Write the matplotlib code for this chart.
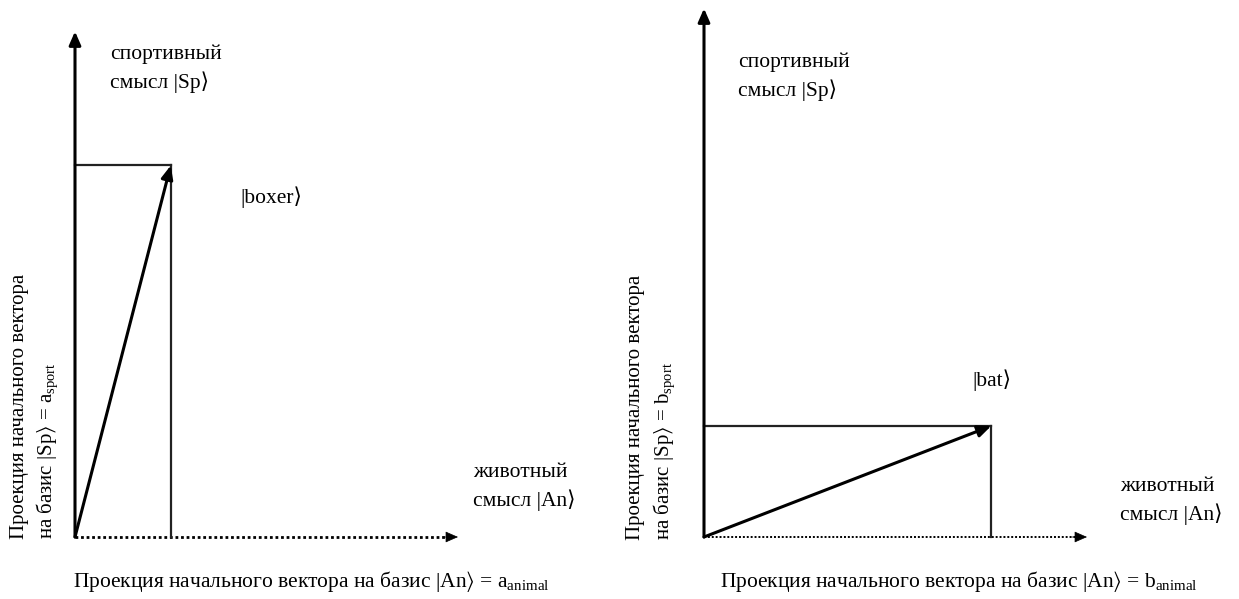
import matplotlib
matplotlib.use("Agg")
import matplotlib.pyplot as plt

# Данные: проекции векторов на базисы (An - животный, Sp - спортивный)
boxer = [0.25, 0.97]      # a_animal, a_sport
bat = [0.75, 0.29]        # b_animal, b_sport
axis_x_len = [1.0, 1.0]
axis_y_len = [1.32, 1.38]
vec_labels = ["|boxer⟩", "|bat⟩"]
coef = ["a", "b"]

plt.rcParams['font.family'] = ['Liberation Serif', 'DejaVu Serif', 'DejaVu Sans']
plt.rcParams['mathtext.fontset'] = 'custom'
plt.rcParams['mathtext.rm'] = 'Liberation Serif'
plt.rcParams['mathtext.it'] = 'Liberation Serif:italic'

W, H = 1239, 599
fig = plt.figure(figsize=(W / 100, H / 100), dpi=100)

# положение начала координат каждой панели (в пикселях)
origins = [(75, 537), (704, 537)]
scale = 383.0

# позиции подписей (в единицах данных)
sp_pos = [(0.091, 1.222), (0.089, 1.202)]
vec_pos = [(0.431, 0.888), (0.70, 0.41)]
an_pos = [(1.039, 0.131), (1.086, 0.095)]
xl_pos = [(-0.005, -0.117), (0.042, -0.117)]
yl1_pos = [(-0.146, -0.004), (-0.178, -0.008)]
yl2_pos = [(-0.072, -0.004), (-0.104, -0.008)]

fs = 15.5

for i, vec in enumerate([boxer, bat]):
    ox, oy = origins[i]
    ax = fig.add_axes([ox / W, (H - oy) / H, scale / W, 1.4 * scale / H])
    ax.set_xlim(0, 1)
    ax.set_ylim(0, 1.4)
    ax.axis('off')

    # ось Sp (вертикальная)
    ax.annotate("", xy=(0, axis_y_len[i]), xytext=(0, 0),
                arrowprops=dict(arrowstyle="-|>,head_length=0.8,head_width=0.35",
                                color="black", lw=2.2, shrinkA=0, shrinkB=0),
                annotation_clip=False)
    # ось An (горизонтальная, пунктир)
    ax.plot([0, axis_x_len[i] - 0.03], [0, 0], color="black", lw=2.0 if i == 0 else 1.4,
            linestyle=(0, (1, 1)), clip_on=False)
    ax.annotate("", xy=(axis_x_len[i], 0), xytext=(axis_x_len[i] - 0.04, 0),
                arrowprops=dict(arrowstyle="-|>,head_length=0.8,head_width=0.35",
                                color="black", lw=0.5, shrinkA=0, shrinkB=0),
                annotation_clip=False)

    # проекции
    ax.plot([0, vec[0]], [vec[1], vec[1]], color="#222222", lw=1.6, clip_on=False)
    ax.plot([vec[0], vec[0]], [0, vec[1]], color="#222222", lw=1.6, clip_on=False)

    # вектор
    ax.annotate("", xy=(vec[0], vec[1]), xytext=(0, 0),
                arrowprops=dict(arrowstyle="-|>,head_length=0.8,head_width=0.35",
                                color="black", lw=2.2, shrinkA=0, shrinkB=0),
                annotation_clip=False)

    ax.text(sp_pos[i][0], sp_pos[i][1], "спортивный\nсмысл |Sp⟩", fontsize=fs,
            ha='left', va='center', linespacing=1.45, clip_on=False)
    ax.text(vec_pos[i][0], vec_pos[i][1], vec_labels[i], fontsize=fs,
            ha='left', va='center', clip_on=False)
    ax.text(an_pos[i][0], an_pos[i][1], "животный\nсмысл |An⟩", fontsize=fs,
            ha='left', va='center', linespacing=1.45, clip_on=False)
    ax.text(xl_pos[i][0], xl_pos[i][1],
            "Проекция начального вектора на базис |An$\\mathrm{⟩}$ = $\\mathrm{%s}_{\\mathrm{animal}}$" % coef[i],
            fontsize=fs, ha='left', va='center', clip_on=False)
    ax.text(yl1_pos[i][0], yl1_pos[i][1], "Проекция начального вектора",
            fontsize=15, ha='center', va='bottom', rotation=90, clip_on=False)
    ax.text(yl2_pos[i][0], yl2_pos[i][1],
            "на базис |Sp$\\mathrm{⟩}$ = $\\mathrm{%s}_{\\mathrm{sport}}$" % coef[i],
            fontsize=15, ha='center', va='bottom', rotation=90, clip_on=False)

fig.savefig("out.png", dpi=100)
